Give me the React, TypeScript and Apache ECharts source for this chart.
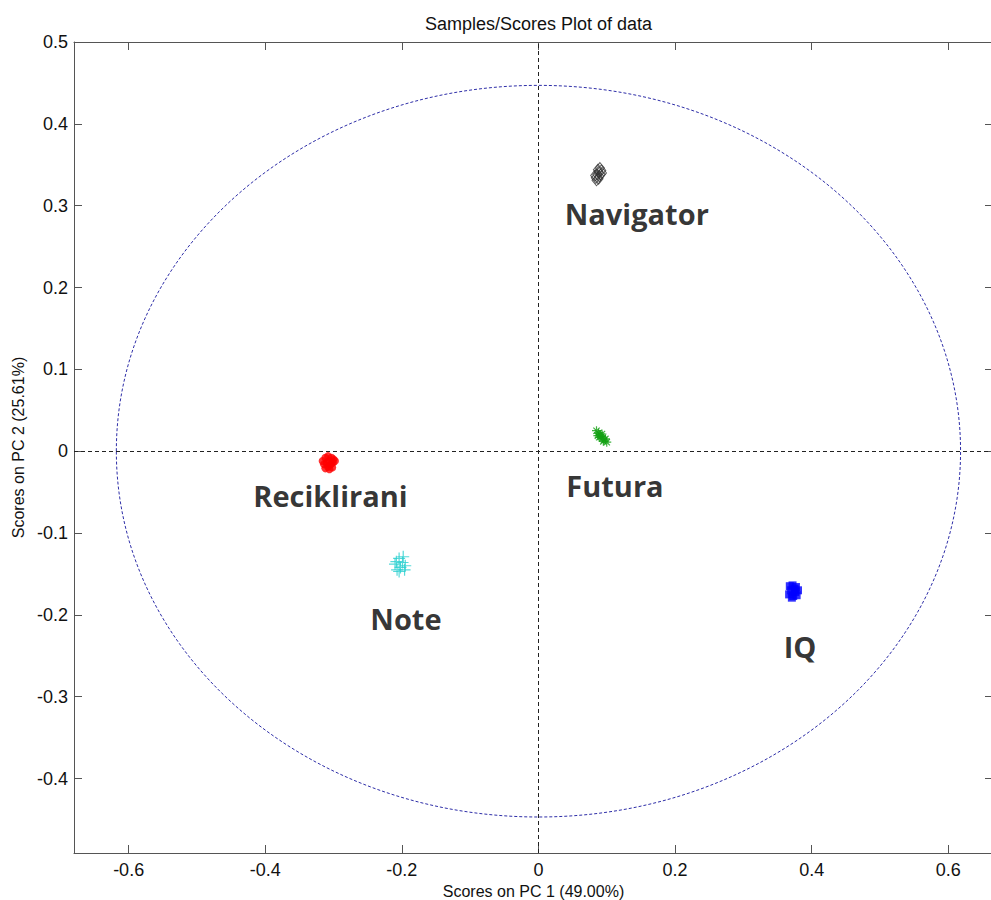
import React, { useEffect, useRef } from "react";
import * as echarts from "echarts";

// ---- data ----
const titleText = "Samples/Scores Plot of data";
const xAxisName = "Scores on PC 1 (49.00%)";
const yAxisName = "Scores on PC 2 (25.61%)";
const xTicks = [-0.6, -0.4, -0.2, 0, 0.2, 0.4, 0.6];
const yTicks = [-0.4, -0.3, -0.2, -0.1, 0, 0.1, 0.2, 0.3, 0.4, 0.5];
const xRange = [-0.68, 0.6655];
const yRange = [-0.491, 0.5];

const navigatorPts = [
  [0.09, 0.346], [0.092, 0.343], [0.088, 0.341], [0.086, 0.338], [0.084, 0.334],
  [0.089, 0.336], [0.093, 0.34], [0.087, 0.344], [0.085, 0.331], [0.091, 0.338],
  [0.083, 0.337], [0.088, 0.333],
];
const futuraPts = [
  [0.085, 0.025], [0.088, 0.022], [0.09, 0.02], [0.092, 0.018], [0.094, 0.016],
  [0.096, 0.014], [0.1, 0.011], [0.089, 0.017], [0.093, 0.021], [0.098, 0.015],
  [0.087, 0.019], [0.095, 0.012],
];
const recikliraniPts = [
  [-0.312, -0.008], [-0.308, -0.006], [-0.303, -0.008], [-0.3, -0.01], [-0.306, -0.012],
  [-0.31, -0.014], [-0.314, -0.016], [-0.304, -0.016], [-0.308, -0.019], [-0.312, -0.021],
  [-0.301, -0.014], [-0.306, -0.022], [-0.298, -0.012], [-0.316, -0.012], [-0.302, -0.02],
];
const notePts = [
  [-0.208, -0.135], [-0.204, -0.131], [-0.198, -0.129], [-0.195, -0.14], [-0.202, -0.142],
  [-0.207, -0.145], [-0.21, -0.138], [-0.199, -0.136], [-0.204, -0.147], [-0.196, -0.145],
];
const iqPts = [
  [0.368, -0.165], [0.372, -0.164], [0.377, -0.166], [0.38, -0.17], [0.376, -0.172],
  [0.37, -0.17], [0.367, -0.175], [0.373, -0.177], [0.378, -0.176], [0.371, -0.179],
  [0.375, -0.168],
];

const clusterLabels = ["Navigator", "Futura", "Reciklirani", "Note", "IQ"];
const labelX = [0.144, 0.112, -0.3045, -0.194, 0.383];
const labelY = [0.291, -0.042, -0.054, -0.204, -0.239];

const ellipseCenter = [0, 0];
const ellipseRadius = [0.618, 0.447];

const ASTERISK = "path://M5 0L5 10M0 5L10 5M1.5 1.5L8.5 8.5M1.5 8.5L8.5 1.5";
const PLUS = "path://M5 0L5 10M0 5L10 5";

const FONT = "'Liberation Sans', Arial, sans-serif";

export default function App() {
  const ref = useRef<HTMLDivElement>(null);
  useEffect(() => {
    if (!ref.current) return;
    const chart = echarts.init(ref.current, undefined, { renderer: "svg" });
    const axisLineStyle = { color: "#555", width: 1 };
    const baseX = {
      type: "value",
      min: xRange[0],
      max: xRange[1],
      splitLine: { show: false },
      axisLine: { show: true, onZero: false, lineStyle: axisLineStyle },
      axisTick: { show: true, inside: true, length: 8, customValues: xTicks, lineStyle: axisLineStyle },
    };
    const baseY = {
      type: "value",
      min: yRange[0],
      max: yRange[1],
      splitLine: { show: false },
      axisLine: { show: true, onZero: false, lineStyle: axisLineStyle },
      axisTick: { show: true, inside: true, length: 8, customValues: yTicks, lineStyle: axisLineStyle },
    };
    const fmt = (v: number) => (Math.abs(v) < 1e-9 ? "0" : String(Math.round(v * 10) / 10));
    chart.setOption({
      animation: false,
      backgroundColor: "#ffffff",
      title: {
        text: titleText,
        left: 420,
        top: 10,
        textStyle: { fontFamily: FONT, fontSize: 18, fontWeight: "normal", color: "#111" },
      },
      grid: { left: 74, top: 42, right: -2, bottom: 47, containLabel: false, outerBoundsMode: "none" },
      xAxis: [
        {
          ...baseX,
          position: "bottom",
          name: xAxisName,
          nameLocation: "middle",
          nameGap: 26,
          nameTextStyle: { fontFamily: FONT, fontSize: 16, lineHeight: 16, color: "#111", verticalAlign: "top" },
          axisLabel: {
            show: true,
            customValues: xTicks,
            formatter: fmt,
            margin: 8,
            fontFamily: FONT,
            fontSize: 18,
            color: "#111",
          },
        },
        { ...baseX, position: "top", axisLabel: { show: false } },
      ],
      yAxis: [
        {
          ...baseY,
          position: "left",
          name: yAxisName,
          nameLocation: "middle",
          nameGap: 48,
          nameRotate: 90,
          nameTextStyle: { fontFamily: FONT, fontSize: 16, color: "#111" },
          axisLabel: {
            show: true,
            customValues: yTicks,
            formatter: fmt,
            margin: 6,
            fontFamily: FONT,
            fontSize: 18,
            color: "#111",
          },
        },
        { ...baseY, position: "right", axisLabel: { show: false } },
      ],
      series: [
        {
          type: "scatter",
          name: "Navigator",
          data: navigatorPts,
          symbol: "diamond",
          symbolSize: [9, 11],
          itemStyle: { color: "none", borderColor: "#333", borderWidth: 1 },
          z: 3,
          markLine: {
            silent: true,
            symbol: "none",
            label: { show: false },
            lineStyle: { color: "#222", width: 1, type: [4, 3] },
            data: [{ xAxis: 0 }, { yAxis: 0 }],
          },
        },
        {
          type: "scatter",
          name: "Futura",
          data: futuraPts,
          symbol: ASTERISK,
          symbolSize: 9,
          itemStyle: { color: "none", borderColor: "#12a012", borderWidth: 1.2 },
          z: 3,
        },
        {
          type: "scatter",
          name: "Reciklirani",
          data: recikliraniPts,
          symbol: "circle",
          symbolSize: 8,
          itemStyle: { color: "#ff0000" },
          z: 3,
        },
        {
          type: "scatter",
          name: "Note",
          data: notePts,
          symbol: PLUS,
          symbolSize: 12,
          itemStyle: { color: "none", borderColor: "#2ccfcf", borderWidth: 1.2 },
          z: 3,
        },
        {
          type: "scatter",
          name: "IQ",
          data: iqPts,
          symbol: "rect",
          symbolSize: 8,
          itemStyle: { color: "#0000ff" },
          z: 3,
        },
        {
          type: "scatter",
          name: "labels",
          data: clusterLabels.map((n, i) => ({ name: n, value: [labelX[i], labelY[i]] })),
          symbolSize: 1,
          itemStyle: { color: "rgba(0,0,0,0)" },
          z: 4,
          label: {
            show: true,
            position: "inside",
            formatter: (p: any) => p.name,
            fontFamily: "'Open Sans', sans-serif",
            fontWeight: "bold",
            fontSize: 29,
            color: "#000",
            textBorderWidth: 0,
          },
        },
      ],
    });
    const c = chart.convertToPixel({ gridIndex: 0 }, ellipseCenter) as number[];
    const e = chart.convertToPixel(
      { gridIndex: 0 },
      [ellipseCenter[0] + ellipseRadius[0], ellipseCenter[1] + ellipseRadius[1]]
    ) as number[];
    chart.setOption({
      graphic: [
        {
          type: "ellipse",
          silent: true,
          z: 1,
          shape: { cx: c[0], cy: c[1], rx: e[0] - c[0], ry: c[1] - e[1] },
          style: { fill: "none", stroke: "#2e2ea8", lineWidth: 1, lineDash: [3, 2] },
        },
      ],
    });
    return () => chart.dispose();
  }, []);
  return (
    <div
      ref={ref}
      style={{ position: "fixed", left: 0, top: 0, width: 991, height: 900, background: "#fff" }}
    />
  );
}
